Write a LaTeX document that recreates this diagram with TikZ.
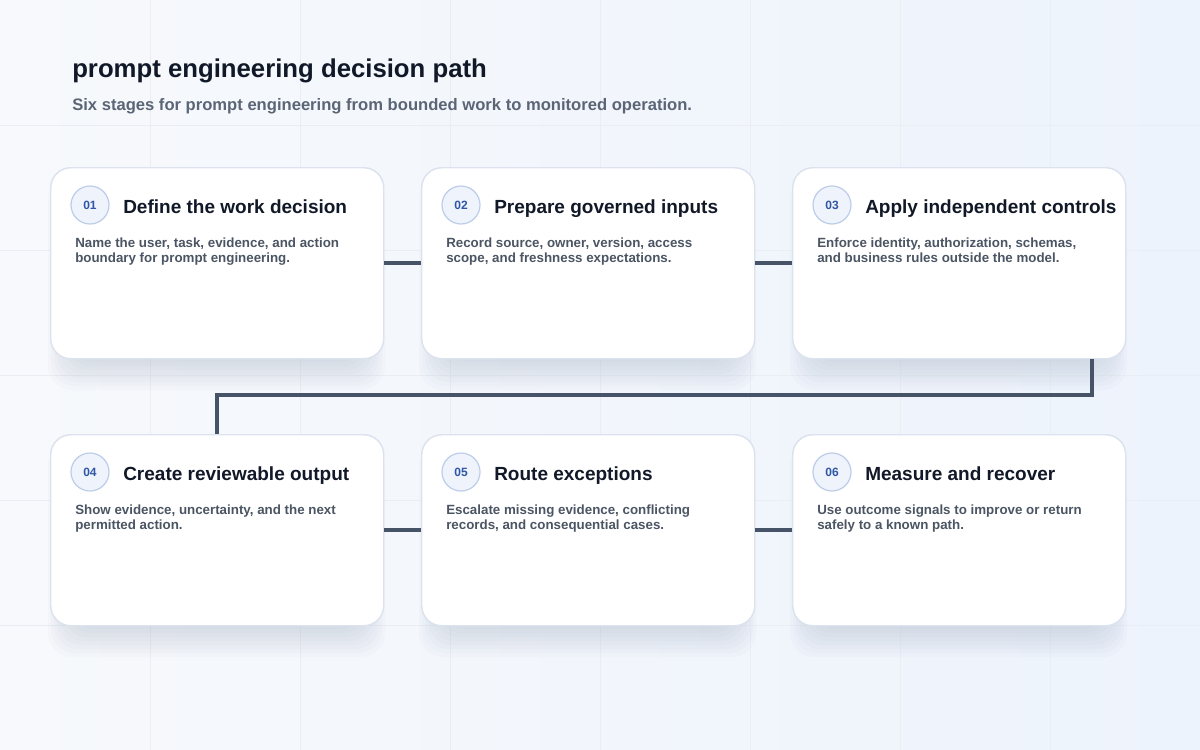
\documentclass[tikz,border=0pt]{standalone}
\usepackage{fontspec}
\setmainfont{Liberation Sans}
\usepackage{tikz}
\usetikzlibrary{calc, shapes, arrows}

\definecolor{bgA}{HTML}{F7F9FC}
\definecolor{bgB}{HTML}{EDF3FC}
\definecolor{gridline}{HTML}{EAEEF4}
\definecolor{cardline}{HTML}{DCE3EE}
\definecolor{haze}{HTML}{7D8CAA}
\definecolor{badgefill}{HTML}{EEF3FC}
\definecolor{badgeline}{HTML}{BDCDE8}
\definecolor{badgetext}{HTML}{2F57A6}
\definecolor{ink}{HTML}{111827}
\definecolor{slate}{HTML}{4B5563}
\definecolor{subink}{HTML}{5B6576}
\definecolor{wire}{HTML}{475467}

\begin{document}
\begin{tikzpicture}[x=0.75pt,y=-0.75pt]
\tikzstyle{card}=[draw=cardline,line width=1.1pt,fill=white,rounded corners=15pt,minimum width=249.75pt,minimum height=143.25pt,anchor=north west]
\tikzstyle{haze}=[fill=haze,fill opacity=0.03]
\tikzstyle{badge}=[circle,draw=badgeline,line width=0.9pt,fill=badgefill,minimum size=28.5pt,inner sep=0pt,text=badgetext,font=\fontsize{9}{9}\selectfont\bfseries]
\tikzstyle{head}=[anchor=base west,inner sep=0pt,text=ink,font=\fontsize{14.25}{14.25}\selectfont\bfseries]
\tikzstyle{body}=[anchor=base west,inner sep=0pt,align=left,text=slate,font=\fontsize{10}{11.25}\selectfont\bfseries]
\tikzstyle{link}=[draw=wire,line width=3pt]
\tikzstyle{grid}=[draw=gridline,line width=0.5pt]

\useasboundingbox (0,0) rectangle (1200,750);
\fill[left color=bgA,right color=bgB] (0,0) rectangle (1200,750);
\foreach \x in {150,300,...,1050} \draw[grid] (\x,0) -- (\x,750);
\foreach \y in {125,250,...,625} \draw[grid] (0,\y) -- (1200,\y);

% soft shadows below the cards
\foreach \x/\y in {50/167,421/167,792/167,50/434,421/434,792/434}
  \foreach \k in {1,...,8}
    \fill[haze,rounded corners=18pt] (\x+22-\k*3,\y+24-\k*2) rectangle (\x+311+\k*3,\y+191+\k*4);

\node[anchor=base west,inner sep=0pt,text=ink,font=\fontsize{19.3}{19.3}\selectfont\bfseries] (title) at (72,77) {prompt engineering decision path};
\node[anchor=base west,inner sep=0pt,text=subink,font=\fontsize{12.45}{12.45}\selectfont\bfseries] (subtitle) at (72,110) {Six stages for prompt engineering from bounded work to monitored operation.};

\node[card] (S_1) at (50,167) {};
\node[card] (S_2) at (421,167) {};
\node[card] (S_3) at (792,167) {};
\node[card] (S_4) at (50,434) {};
\node[card] (S_5) at (421,434) {};
\node[card] (S_6) at (792,434) {};

\node[badge] (N_1) at (90,205) {01};
\node[badge] (N_2) at (461,205) {02};
\node[badge] (N_3) at (832,205) {03};
\node[badge] (N_4) at (90,472) {04};
\node[badge] (N_5) at (461,472) {05};
\node[badge] (N_6) at (832,472) {06};

\node[head] (T_1) at (123,213) {Define the work decision};
\node[head] (T_2) at (494,213) {Prepare governed inputs};
\node[head] (T_3) at (865,213) {Apply independent controls};
\node[head] (T_4) at (123,480) {Create reviewable output};
\node[head] (T_5) at (494,480) {Route exceptions};
\node[head] (T_6) at (865,480) {Measure and recover};

\node[body] (B_1) at (75,262) {Name the user, task, evidence, and action\\boundary for prompt engineering.};
\node[body] (B_2) at (446,262) {Record source, owner, version, access\\scope, and freshness expectations.};
\node[body] (B_3) at (817,262) {Enforce identity, authorization, schemas,\\and business rules outside the model.};
\node[body] (B_4) at (75,529) {Show evidence, uncertainty, and the next\\permitted action.};
\node[body] (B_5) at (446,529) {Escalate missing evidence, conflicting\\records, and consequential cases.};
\node[body] (B_6) at (817,529) {Use outcome signals to improve or return\\safely to a known path.};

\coordinate (bend) at (216.5,395);
\draw[link] (S_1.east) -- (S_2.west);
\draw[link] (S_2.east) -- (S_3.west);
\draw[link] ([xshift=-25.5pt]S_3.south east) |- (S_4.north |- bend) -- (S_4.north);
\draw[link] (S_4.east) -- (S_5.west);
\draw[link] (S_5.east) -- (S_6.west);
\end{tikzpicture}
\end{document}
